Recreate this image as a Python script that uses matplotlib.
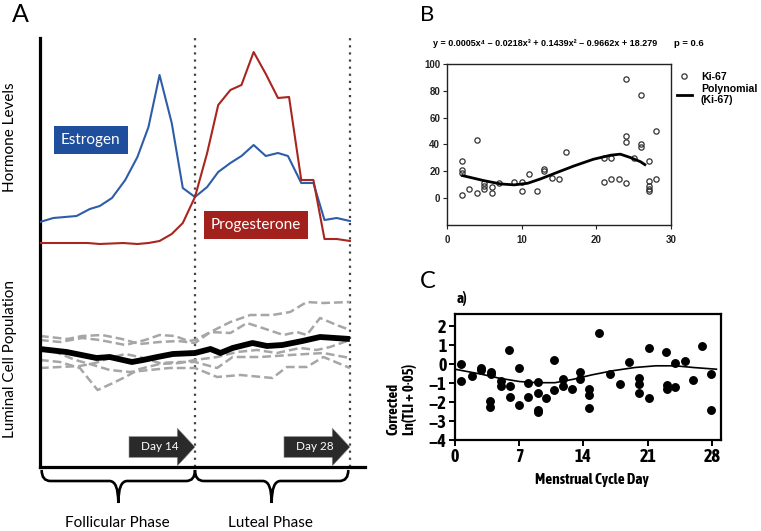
import numpy as np
import matplotlib
matplotlib.use('Agg')
import matplotlib.pyplot as plt
from matplotlib.path import Path
from matplotlib.patches import PathPatch, FancyArrow
from matplotlib import font_manager as fm
import matplotlib.patheffects as pe

# ---------------- Panel A data (arbitrary units) ----------------
estrogen_day = [0, 1.2, 3.3, 4.5, 5.4, 6.5, 7.7, 8.8, 9.8, 10.8, 11.9, 12.9, 14.0,
                15.1, 16.1, 17.2, 18.2, 19.3, 20.4, 21.5, 22.4, 23.6, 24.7, 25.7, 26.8, 28.0]
estrogen_level = [245, 249, 251, 258, 261, 269, 287, 310, 340, 392, 344, 279, 270,
                  280, 295, 304, 311, 322, 311, 314, 311, 284, 284, 247, 249, 246]

progesterone_day = [0, 3.3, 4.3, 5.4, 7.5, 8.8, 9.8, 10.8, 11.9, 12.9, 14.0, 15.1, 16.1,
                    17.2, 18.2, 19.3, 20.4, 21.5, 22.5, 23.6, 24.7, 25.7, 26.8, 28.0]
progesterone_level = [224, 224, 224, 223, 224, 223, 224, 226, 233, 244, 270, 314, 362,
                      377, 382, 415, 393, 369, 370, 287, 287, 228, 228, 226]

luminal_mean_day = [0, 2.4, 5.1, 6.3, 8.3, 9.3, 10.6, 12.0, 14.0, 15.4, 16.3, 17.4,
                    19.2, 20.5, 21.9, 23.7, 25.3, 28.0]
luminal_mean = [118, 115, 109, 110, 105, 107, 110, 113, 114, 118, 114, 119,
                124, 121, 122, 126, 130, 128]

luminal_g1_day = [0, 2.5, 3.8, 5.6, 7.4, 9.0, 10.8, 12.5, 14, 15.4, 17.2, 19.0, 21.0, 22.6, 24.1, 25.6, 28]
luminal_g1 = [131, 128, 131, 132, 128, 123, 125, 126, 124, 135, 145, 152, 152, 155, 165, 164, 165]
luminal_g2_day = [0, 1.8, 3.8, 5.4, 7.7, 9.5, 10.8, 12.2, 13.4, 14, 15.4, 17.2, 18.7, 20.1, 22.0, 23.2, 24.1, 25.3, 26.8, 28]
luminal_g2 = [127, 125, 129, 127, 122, 127, 132, 131, 126, 127, 135, 134, 144, 139, 132, 135, 132, 149, 142, 137]
luminal_g3_day = [0, 1.8, 3.6, 5.2, 6.6, 7.7, 9.0, 10.8, 12.6, 14, 16, 17.8, 19.6, 21.4, 23.5, 25.0, 26.2, 28]
luminal_g3 = [107, 105, 99, 77, 84, 90, 98, 103, 104, 107, 110, 115, 117, 114, 119, 117, 120, 127]
luminal_g4_day = [0, 1.8, 3.6, 5.0, 6.3, 7.7, 9.0, 10.8, 12.6, 14, 16, 17.4, 19.9, 22.6, 25.6, 28]
luminal_g4 = [99, 100, 101, 104, 109, 113, 110, 104, 105, 105, 99, 110, 110, 112, 114, 109]
luminal_g5_day = [0, 1.4, 3.2, 4.5, 6.3, 8.1, 9.9, 11.7, 14, 16, 18.1, 21.0, 22.3, 24.1, 25.6, 28]
luminal_g5 = [117, 115, 107, 103, 97, 95, 97, 99, 99, 90, 92, 89, 100, 100, 110, 99]

arrow_tip_day = [14, 28]
arrow_labels = ['Day 14', 'Day 28']
phase_labels = ['Follicular Phase', 'Luteal Phase']

# ---------------- Panel B data ----------------
ki67_day = [2, 2, 2, 2, 3, 4, 4, 5, 5, 5, 6, 6, 7, 9, 10, 10, 11, 12, 13, 13, 14, 15, 16,
            21, 21, 22, 22, 23, 24, 24, 24, 24, 25, 26, 26, 26, 27, 27, 27, 27, 27, 28, 28]
ki67_value = [28, 21, 19, 2, 7, 43.5, 4, 11, 9, 7, 8, 4, 11, 12, 12, 5, 18, 5.4, 22, 20, 15, 14, 34.5,
              29.6, 12, 29.6, 14, 14, 89, 46, 42, 11.6, 29.6, 77, 40, 38, 28, 13, 9, 7, 5, 50, 14]
fit_day = [2.1, 5.0, 7.2, 9.0, 10.8, 12.5, 14.8, 17.0, 19.6, 21.9, 23.2, 24.5, 25.9, 26.5]
fit_value = [16.8, 13.0, 10.6, 9.9, 11.1, 14.3, 19.3, 24.0, 29.0, 32.0, 32.8, 30.4, 27.2, 25.0]
equation_text = "y = 0.0005x\u2074 \u2013 0.0218x\u00b3 + 0.1439x\u00b2 \u2013 0.9662x + 18.279"
p_text = "p = 0.6"

# ---------------- Panel C data ----------------
tli_day = [0.7, 0.7, 1.8, 2.8, 2.8, 3.9, 3.9, 3.8, 3.8, 5.0, 5.0, 5.9, 6.0, 6.0, 7.0, 7.0,
           8.0, 8.0, 9.0, 9.0, 9.0, 9.0, 9.9, 10.8, 10.8, 11.8, 11.8, 12.8, 13.6, 13.6,
           14.6, 14.6, 14.6, 15.7, 16.9, 18.0, 19.0, 20.1, 20.1, 20.1, 21.2, 21.2,
           23.0, 23.1, 23.1, 24.0, 24.0, 25.1, 26.0, 26.9, 27.9, 27.9]
tli_value = [0.0, -0.89, -0.62, -0.2, -0.3, -0.4, -0.5, -1.95, -2.25, -0.9, -1.15, 0.75, -1.15, -1.74, -0.18, -2.13,
             -0.98, -1.74, -0.92, -1.5, -2.4, -2.5, -1.8, 0.2, -1.38, -0.8, -1.15, -1.33, -0.44, -0.8,
             -1.33, -1.63, -2.3, 1.65, -0.53, -1.03, 0.09, -0.75, -1.03, -1.54, 0.83, -1.77,
             0.62, -1.1, -1.33, 0.05, -1.19, 0.18, -0.83, 0.94, -0.5, -2.43]
tli_curve_day = [0, 2.85, 4.8, 7.05, 9.0, 10.9, 12.9, 14.9, 17.2, 19.6, 21.9, 24.0, 26.0, 28.5]
tli_curve = [-0.27, -0.53, -0.74, -0.92, -0.98, -0.98, -0.8, -0.57, -0.35, -0.18, -0.09, -0.09, -0.18, -0.27]

# ---------------- Fonts ----------------
SANS = ['Lato', 'DejaVu Sans']
ARIAL = ['Liberation Sans', 'DejaVu Sans']


def _is_bold(w):
    if isinstance(w, (int, float)):
        return w >= 600
    return str(w).lower() in ('bold', 'heavy', 'black', 'semibold', 'demibold', 'extra bold', 'ultrabold')


_named = [f for f in fm.fontManager.ttflist if ('Narrow' in f.name or 'Condensed' in f.name)]
_named_bold = [f for f in _named if _is_bold(f.weight)]
NEFFECT = []
if _named_bold:
    NARROW = [_named_bold[0].name, 'DejaVu Sans']
    NWEIGHT = 'bold'
    NSCALE = 1.0
elif _named:
    NARROW = [_named[0].name, 'DejaVu Sans']
    NWEIGHT = 'normal'
    NSCALE = 1.0
    NEFFECT = [pe.withStroke(linewidth=0.9, foreground='black')]
else:
    NARROW = ['DejaVu Sans', 'DejaVu Sans']
    NWEIGHT = 'bold'
    NSCALE = 0.75

# ---------------- Figure ----------------
W, H = 761, 531
fig = plt.figure(figsize=(W / 100, H / 100), dpi=100)


def px_axes(x0, y0, x1, y1):
    return fig.add_axes([x0 / W, 1 - y1 / H, (x1 - x0) / W, (y1 - y0) / H])


def fx(px):
    return px / W


def fy(py):
    return 1 - py / H


def nfont(size):
    return dict(family=NARROW, fontweight=NWEIGHT, fontsize=size * NSCALE, path_effects=NEFFECT)


# ---- Panel A ----
axA = px_axes(40, 38, 365, 467)
axA.set_xlim(0, 29.36)
axA.set_ylim(0, 429)
for s in ['top', 'right']:
    axA.spines[s].set_visible(False)
for s in ['left', 'bottom']:
    axA.spines[s].set_linewidth(2.3)
    axA.spines[s].set_color('black')
axA.set_xticks([])
axA.set_yticks([])
axA.patch.set_alpha(0)

for d in arrow_tip_day:
    axA.axvline(d, color='#444444', lw=1.6, ls=(0, (1, 2.2)), zorder=1)

axA.plot(estrogen_day, estrogen_level, color='#2e5da8', lw=1.5, zorder=3)
axA.plot(progesterone_day, progesterone_level, color='#a82520', lw=1.5, zorder=3)

axA.text(4.6, 327, 'Estrogen', color='white', fontsize=11, family=SANS, ha='center', va='center',
         bbox=dict(boxstyle='square,pad=0.45', fc='#1f4f9c', ec='none'), zorder=4)
axA.text(19.5, 242, 'Progesterone', color='white', fontsize=11, family=SANS, ha='center', va='center',
         bbox=dict(boxstyle='square,pad=0.45', fc='#a3211d', ec='none'), zorder=4)

dash = (0, (3.5, 1.6))
for dd, vv in [(luminal_g1_day, luminal_g1), (luminal_g2_day, luminal_g2), (luminal_g3_day, luminal_g3),
               (luminal_g4_day, luminal_g4), (luminal_g5_day, luminal_g5)]:
    axA.plot(dd, vv, color='#a6a6a6', lw=1.8, ls=dash, zorder=2)
axA.plot(luminal_mean_day, luminal_mean, color='black', lw=4.2, zorder=3, solid_capstyle='butt')

# Day arrows (6-day long arrows ending on the phase boundaries)
for tip, lab in zip(arrow_tip_day, arrow_labels):
    arr = FancyArrow(tip - 5.96, 20, 5.96, 0,
                     width=21, head_width=38, head_length=1.6, length_includes_head=True,
                     fc='#2a2a2a', ec='#9a9a9a', lw=0.4, zorder=5)
    axA.add_patch(arr)
    axA.text(tip - 3.2, 20, lab, color='white', fontsize=8.5, family=SANS, ha='center', va='center', zorder=6)


def brace(ax, x0, x1, ytop, yline, ytip, r):
    xm = (x0 + x1) / 2
    verts = [(x0, ytop), (x0, yline), (x0 + r, yline), (xm - r, yline), (xm, yline), (xm, ytip),
             (xm, yline), (xm + r, yline), (x1 - r, yline), (x1, yline), (x1, ytop)]
    codes = [Path.MOVETO, Path.CURVE3, Path.CURVE3, Path.LINETO, Path.CURVE3, Path.CURVE3,
             Path.CURVE3, Path.CURVE3, Path.LINETO, Path.CURVE3, Path.CURVE3]
    ax.add_patch(PathPatch(Path(verts, codes), fc='none', ec='black', lw=1.9, clip_on=False))


brace(axA, 0.15, 14, -3, -14, -36, 0.8)
brace(axA, 14, 27.85, -3, -14, -36, 0.8)
axA.text(7.0, -56, phase_labels[0], fontsize=11, family=SANS, ha='center', va='center', clip_on=False)
axA.text(20.8, -56, phase_labels[1], fontsize=11, family=SANS, ha='center', va='center', clip_on=False)

fig.text(fx(10), fy(137), 'Hormone Levels', rotation=90, fontsize=11, family=SANS, ha='center', va='center')
fig.text(fx(10.5), fy(359), 'Luminal Cell Population', rotation=90, fontsize=11, family=SANS,
         ha='center', va='center')
fig.text(fx(20), fy(15), 'A', fontsize=18, family=SANS, ha='center', va='center')

# ---- Panel B ----
axB = px_axes(447, 64, 671, 225)
axB.plot(ki67_day, ki67_value, ls='none', marker='o', ms=3.8, mfc='none', mec='#333333', mew=0.9,
         label='Ki-67')
axB.plot(fit_day, fit_value, color='black', lw=2.0, label='Polynomial\n(Ki-67)')
axB.set_xlim(0, 30)
axB.set_ylim(-20, 100)
axB.set_xticks([0, 10, 20, 30])
axB.set_yticks([0, 20, 40, 60, 80, 100])
for s in axB.spines.values():
    s.set_linewidth(1.0)
    s.set_color('#222222')
axB.tick_params(length=3, width=0.8, pad=2, labelsize=7, colors='#222222')
for lab in axB.get_xticklabels() + axB.get_yticklabels():
    lab.set_family(ARIAL)
    lab.set_fontweight('bold')
axB.tick_params(axis='x', pad=4)
axB.legend(loc='upper left', bbox_to_anchor=(fx(677), fy(71.5)), bbox_transform=fig.transFigure,
           frameon=False, prop=dict(family=ARIAL, weight='bold', size=7.6), handlelength=1.4,
           handletextpad=0.85, borderpad=0, labelspacing=0.2, borderaxespad=0)
fig.text(fx(657), fy(43), equation_text, fontsize=6.5, fontweight='bold', family=ARIAL, ha='right', va='center')
fig.text(fx(674), fy(43), p_text, fontsize=6.8, fontweight='bold', family=ARIAL, ha='left', va='center')
fig.text(fx(427), fy(15), 'B', fontsize=16, family=SANS, ha='center', va='center')

# ---- Panel C ----
axC = px_axes(455, 314, 721, 440)
axC.plot(tli_day, tli_value, ls='none', marker='o', ms=5.4, color='black')
axC.plot(tli_curve_day, tli_curve, color='black', lw=1.2)
axC.set_xlim(0, 29)
axC.set_ylim(-4, 2.64)
axC.set_xticks([0, 7, 14, 21, 28])
axC.set_yticks([-4, -3, -2, -1, 0, 1, 2])
for s in axC.spines.values():
    s.set_linewidth(1.6)
axC.tick_params(length=4, width=1.4, pad=2)
for lab in axC.get_xticklabels() + axC.get_yticklabels():
    lab.set_family(NARROW)
    lab.set_fontweight(NWEIGHT)
    lab.set_fontsize(13 * NSCALE)
    lab.set_path_effects(NEFFECT)
fig.text(fx(592), fy(480), 'Menstrual Cycle Day', ha='center', va='center', **nfont(11))
fig.text(fx(402), fy(435), 'Corrected\nLn(TLI + 0\u00b705)', rotation=90, ha='center', va='bottom',
         multialignment='left', linespacing=1.15, **nfont(10.5))
fig.text(fx(462), fy(298), 'a)', ha='center', va='center', **nfont(11))
fig.text(fx(427.5), fy(281), 'C', fontsize=17, family=SANS, ha='center', va='center')

fig.savefig('out.png', dpi=100)
